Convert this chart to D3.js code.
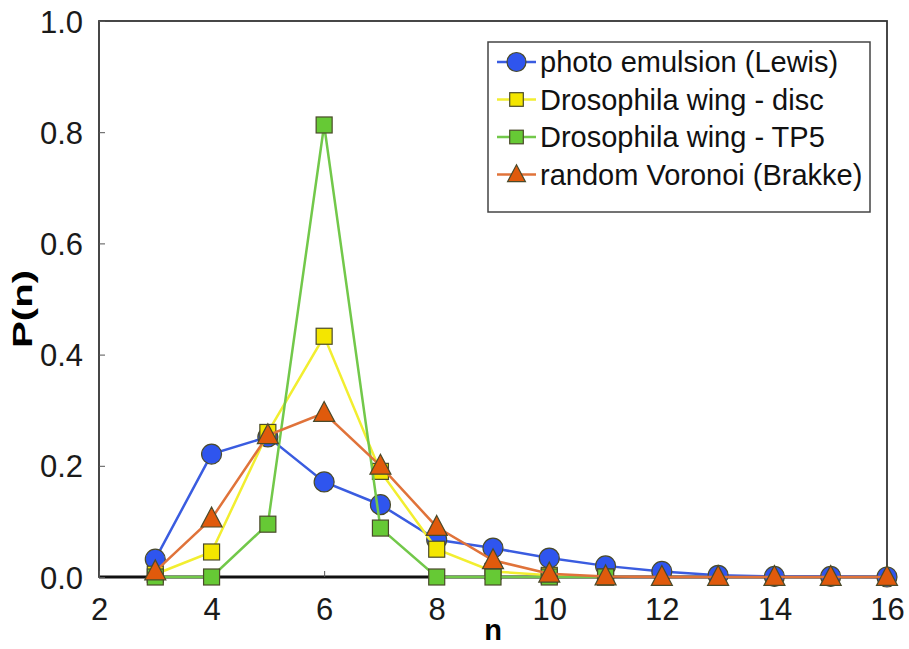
<!DOCTYPE html>
<html lang="en">
<head>
  <meta charset="UTF-8">
  <title>P(n)</title>
  <style>
    body { margin: 0; background: #fff; }
    svg { display: block; font-family: "Liberation Sans", Arial, sans-serif; }
    .tick text { font-size: 31px; fill: #1a1a1a; }
    .legend text { font-size: 29px; fill: #111; }
  </style>
</head>
<body>
  <svg></svg>
</body>
<script src="https://d3js.org/d3.v7.min.js"></script>
<script>

  let nValues = [3, 4, 5, 6, 7, 8, 9, 10, 11, 12, 13, 14, 15, 16];

  let photoEmulsion = [0.032, 0.221, 0.252, 0.171, 0.130, 0.067, 0.052, 0.034, 0.020, 0.010, 0.003, 0.001, 0.001, 0.000];
  let wingDisc = [0.005, 0.045, 0.260, 0.433, 0.190, 0.050, 0.010, 0.003, 0.000];
  let wingTP5 = [0.000, 0.000, 0.095, 0.813, 0.088, 0.000, 0.000, 0.000, 0.000];
  let voronoi = [0.010, 0.105, 0.255, 0.295, 0.200, 0.090, 0.030, 0.006, 0.001, 0.000, 0.000, 0.000, 0.000, 0.000];

  let xTicks = [2, 4, 6, 8, 10, 12, 14, 16];
  let yTicks = [0, 0.2, 0.4, 0.6, 0.8, 1.0];

  let series = [
    { name: 'photo emulsion (Lewis)', values: photoEmulsion, shape: 'circle', fill: '#2f55ee', line: '#3a5ce0' },
    { name: 'Drosophila wing - disc', values: wingDisc, shape: 'square', fill: '#f4e600', line: '#f2ee30' },
    { name: 'Drosophila wing - TP5', values: wingTP5, shape: 'square', fill: '#66c935', line: '#72c84a' },
    { name: 'random Voronoi (Brakke)', values: voronoi, shape: 'triangle', fill: '#e05a0c', line: '#e0733a' }
  ];

  let width = 909,
    height = 649;

  let svg = d3.select('svg')
    .attr('width', width)
    .attr('height', height);

  let x = d3.scaleLinear().domain([2, 16]).range([99, 887]);
  let y = d3.scaleLinear().domain([0, 1]).range([577, 21]);

  // frame
  svg.append('rect')
    .attr('x', x(2))
    .attr('y', y(1))
    .attr('width', x(16) - x(2))
    .attr('height', y(0) - y(1))
    .attr('fill', 'none')
    .attr('stroke', '#333')
    .attr('stroke-width', 1.8);

  svg.append('line')
    .attr('x1', x(2)).attr('x2', x(16))
    .attr('y1', y(0)).attr('y2', y(0))
    .attr('stroke', '#111')
    .attr('stroke-width', 3);

  let xAxis = svg.append('g')
    .attr('transform', `translate(0,${y(0)})`)
    .call(d3.axisBottom(x).tickValues(xTicks).tickFormat(d3.format('d')).tickSizeInner(-6).tickSizeOuter(0).tickPadding(21));

  let yAxis = svg.append('g')
    .attr('transform', `translate(${x(2)},0)`)
    .call(d3.axisLeft(y).tickValues(yTicks).tickFormat(d3.format('.1f')).tickSizeInner(-6).tickSizeOuter(0).tickPadding(16));

  for (let ax of [xAxis, yAxis]) {
    ax.select('.domain').remove();
    ax.selectAll('.tick line').attr('stroke', '#555');
  }
  xAxis.selectAll('.tick text').attr('dy', '0.71em');
  yAxis.selectAll('.tick text').attr('dy', '0.36em');

  svg.append('text')
    .attr('x', (x(2) + x(16)) / 2)
    .attr('y', 640)
    .attr('text-anchor', 'middle')
    .attr('font-weight', 'bold')
    .attr('font-size', 29)
    .text('n');

  svg.append('text')
    .attr('transform', `translate(32,${y(0.5) + 10}) rotate(-90)`)
    .attr('text-anchor', 'middle')
    .attr('font-weight', 'bold')
    .attr('font-size', 27)
    .attr('textLength', 78)
    .attr('lengthAdjust', 'spacingAndGlyphs')
    .text('P(n)');

  let lineGen = d3.line()
    .x((d, i) => x(nValues[i]))
    .y(d => y(d));

  function drawMarker(g, shape, cx, cy, fill, scale) {
    scale = scale || 1;
    let m;
    if (shape === 'circle') {
      m = g.append('circle').attr('cx', cx).attr('cy', cy).attr('r', 10 * scale);
    } else if (shape === 'square') {
      let s = 16 * scale;
      m = g.append('rect').attr('x', cx - s / 2).attr('y', cy - s / 2).attr('width', s).attr('height', s);
    } else {
      let r = 10.5 * scale;
      m = g.append('path')
        .attr('d', `M${cx},${cy - r * 1.1} L${cx + r},${cy + r * 0.8} L${cx - r},${cy + r * 0.8} Z`);
    }
    m.attr('fill', fill).attr('stroke', '#4a4a2a').attr('stroke-width', 1.2);
  }

  for (let s of series) {
    let g = svg.append('g');
    g.append('path')
      .datum(s.values)
      .attr('d', lineGen)
      .attr('fill', 'none')
      .attr('stroke', s.line)
      .attr('stroke-width', 2.5);
    s.values.forEach((v, i) => drawMarker(g, s.shape, x(nValues[i]), y(v), s.fill));
  }

  // legend
  let legend = svg.append('g').attr('class', 'legend');
  legend.append('rect')
    .attr('x', 488).attr('y', 42)
    .attr('width', 382).attr('height', 170)
    .attr('fill', '#fff')
    .attr('stroke', '#444')
    .attr('stroke-width', 1.5);

  series.forEach((s, i) => {
    let ly = 62 + i * 37.5;
    let row = legend.append('g');
    row.append('line')
      .attr('x1', 497).attr('x2', 536)
      .attr('y1', ly).attr('y2', ly)
      .attr('stroke', s.line)
      .attr('stroke-width', 2.5);
    drawMarker(row, s.shape, 516.5, ly, s.fill, s.shape === 'circle' ? 0.95 : 0.85);
    row.append('text')
      .attr('x', 540)
      .attr('y', ly)
      .attr('dy', '0.36em')
      .text(s.name);
  });
</script>
</html>
